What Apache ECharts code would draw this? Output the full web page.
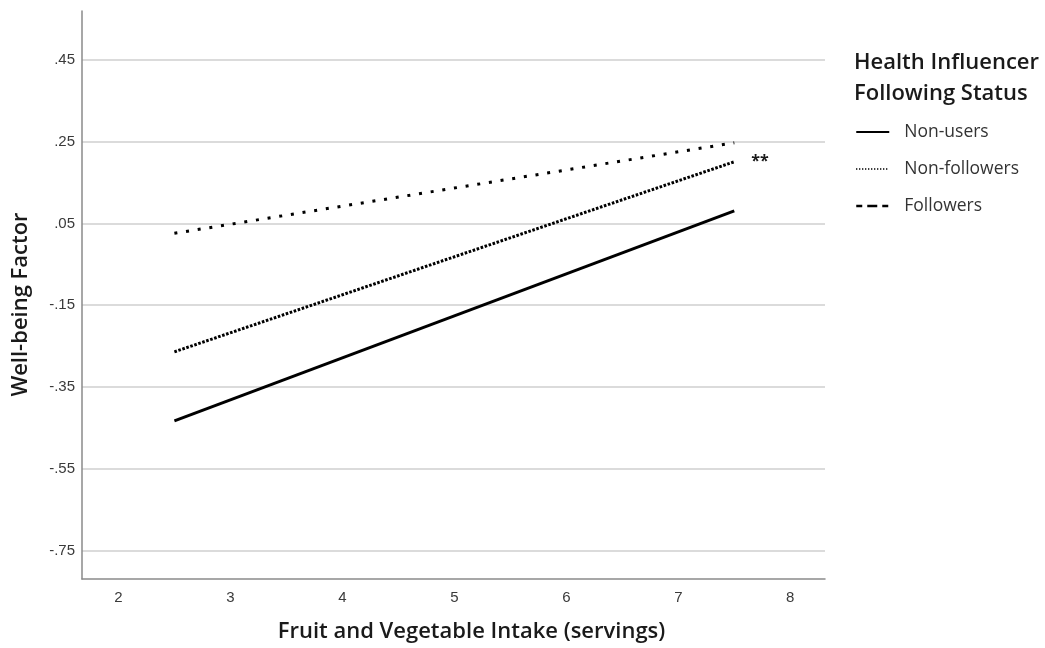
<!DOCTYPE html>
<html>
<head>
<meta charset="utf-8">
<script src="https://cdn.jsdelivr.net/npm/echarts@6/dist/echarts.min.js"></script>
<style>
html,body{margin:0;padding:0;background:#fff;}
#chart{width:1045px;height:648px;}
</style>
</head>
<body>
<div id="chart"></div>
<script>
// ---- data ----
var seriesNames = ['Non-users', 'Non-followers', 'Followers'];
var nonUsers = [[2.5, -0.433], [7.5, 0.081]];
var nonFollowers = [[2.5, -0.264], [7.5, 0.201]];
var followers = [[2.5, 0.026], [7.5, 0.2475]];
var xTicks = [2, 3, 4, 5, 6, 7, 8];
var yTicks = [0.45, 0.25, 0.05, -0.15, -0.35, -0.55, -0.75];
var yTickLabels = ['.45', '.25', '.05', '-.15', '-.35', '-.55', '-.75'];
var xTitle = 'Fruit and Vegetable Intake (servings)';
var yTitle = 'Well-being Factor';
var legendTitle = 'Health Influencer\nFollowing Status';
var annotation = '**';

var chart = echarts.init(document.getElementById('chart'), null, {renderer: 'canvas'});

function yFmt(v) {
  for (var i = 0; i < yTicks.length; i++) {
    if (Math.abs(yTicks[i] - v) < 1e-6) return yTickLabels[i];
  }
  return '';
}

var option = {
  animation: false,
  backgroundColor: '#ffffff',
  grid: {left: 82, right: 220, top: 11, bottom: 69, containLabel: false},
  xAxis: {
    type: 'value',
    min: 1.675, max: 8.31,
    name: xTitle,
    nameLocation: 'middle',
    nameGap: 42,
    nameTextStyle: {fontFamily: 'Open Sans', fontWeight: 600, fontSize: 22, color: '#1a1a1a', padding: [0, 0, 0, 36]},
    axisLine: {show: true, onZero: false, lineStyle: {color: '#8a8a8a', width: 1.5}},
    axisTick: {show: false, customValues: xTicks},
    axisLabel: {customValues: xTicks, margin: 11, fontFamily: 'Liberation Sans', fontSize: 15, color: '#3a3a3a'},
    splitLine: {show: false}
  },
  yAxis: {
    type: 'value',
    min: -0.82, max: 0.57,
    name: yTitle,
    nameLocation: 'middle',
    nameGap: 50,
    nameTextStyle: {fontFamily: 'Open Sans', fontWeight: 600, fontSize: 22, color: '#1a1a1a', padding: [0, 19, 0, 0]},
    axisLine: {show: true, onZero: false, lineStyle: {color: '#8a8a8a', width: 1.5}},
    axisTick: {show: false, customValues: yTicks},
    axisLabel: {customValues: yTicks, formatter: yFmt, margin: 7, fontFamily: 'Liberation Sans', fontSize: 15, color: '#3a3a3a'},
    splitLine: {show: true, lineStyle: {color: '#cfcfcf', width: 1.5}}
  },
  legend: {
    orient: 'vertical',
    left: 855,
    top: 123,
    padding: 0,
    itemWidth: 33,
    itemHeight: 16,
    itemGap: 19,
    textStyle: {fontFamily: 'Open Sans', fontSize: 17.5, color: '#333', padding: [0, 0, 0, 10]},
    data: [
      {name: seriesNames[0], itemStyle: {opacity: 0}, lineStyle: {type: 'solid', width: 2, color: '#000'}},
      {name: seriesNames[1], itemStyle: {opacity: 0}, lineStyle: {type: [1, 2], width: 1.8, color: '#000'}},
      {name: seriesNames[2], itemStyle: {opacity: 0}, lineStyle: {type: [6, 5, 10, 5], width: 2.5, color: '#000'}}
    ]
  },
  graphic: [
    {
      type: 'text',
      left: 854,
      top: 47,
      style: {text: legendTitle, fontFamily: 'Open Sans', fontWeight: 600, fontSize: 22, lineHeight: 31, fill: '#1a1a1a'}
    }
  ],
  series: [
    {
      name: seriesNames[0], type: 'line', data: nonUsers, symbol: 'none',
      lineStyle: {color: '#000', width: 3, type: 'solid'}, itemStyle: {color: '#000'}
    },
    {
      name: seriesNames[1], type: 'line', data: nonFollowers, symbol: 'none',
      lineStyle: {color: '#000', width: 3, type: [2.6, 1.6]}, itemStyle: {color: '#000'},
      endLabel: {show: true, formatter: annotation, distance: 17, fontFamily: 'Open Sans', fontWeight: 700, fontSize: 16, color: '#1a1a1a'}
    },
    {
      name: seriesNames[2], type: 'line', data: followers, symbol: 'none',
      lineStyle: {color: '#000', width: 3, type: [3, 8.8]}, itemStyle: {color: '#000'}
    }
  ]
};
chart.setOption(option);
</script>
</body>
</html>
